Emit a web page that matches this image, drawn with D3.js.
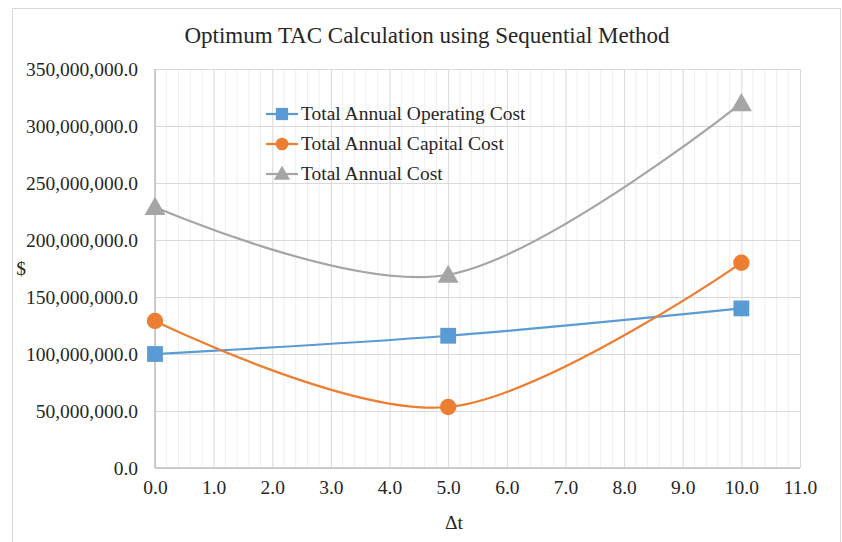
<!DOCTYPE html>
<html>
<head>
<meta charset="utf-8">
<script src="https://cdn.jsdelivr.net/npm/d3@7"></script>
<style>
  body { margin: 0; background: #fff; }
  svg text { font-family: "Liberation Serif", "Times New Roman", "DejaVu Serif", serif !important; fill: #262626; }
</style>
</head>
<body>
<div id="vis"></div>
<script>
// data
const DT = [0, 5, 10];
const OPERATING = [100000000, 116000000, 140000000];
const CAPITAL = [129000000, 53500000, 180000000];
const TOTAL = [229000000, 169500000, 320000000];
const SERIES_NAMES = ["Total Annual Operating Cost", "Total Annual Capital Cost", "Total Annual Cost"];
const X_TICKS = d3.range(0, 12, 1);
const Y_TICKS = d3.range(0, 350000001, 50000000);

const FRAME_WIDTH = 842;
const FRAME_HEIGHT = 542;
const MARGINS = {left: 155, right: 42, top: 69, bottom: 74};
const VIS_WIDTH = FRAME_WIDTH - MARGINS.left - MARGINS.right;
const VIS_HEIGHT = FRAME_HEIGHT - MARGINS.top - MARGINS.bottom;

const COLORS = ["#5B9BD5", "#ED7D31", "#A5A5A5"];
const SHAPES = [d3.symbolSquare, d3.symbolCircle, d3.symbolTriangle];
const SIZES = [250, 210, 190];

const FRAME = d3.select("#vis")
    .append("svg")
    .attr("width", FRAME_WIDTH)
    .attr("height", FRAME_HEIGHT);

// chart border
FRAME.append("rect")
    .attr("x", 12.5).attr("y", 8.5)
    .attr("width", 828).attr("height", 560)
    .attr("fill", "none")
    .attr("stroke", "#d9d9d9");

const X_SCALE = d3.scaleLinear().domain([0, 11]).range([0, VIS_WIDTH]);
const Y_SCALE = d3.scaleLinear().domain([0, 350000000]).range([VIS_HEIGHT, 0]);

const G = FRAME.append("g")
    .attr("transform", "translate(" + MARGINS.left + "," + MARGINS.top + ")");

// minor vertical gridlines
G.append("g")
    .selectAll("line")
    .data(d3.range(0, 11.01, 0.2).filter((d) => Math.abs(d - Math.round(d)) > 0.01))
    .enter()
    .append("line")
    .attr("x1", (d) => X_SCALE(d)).attr("x2", (d) => X_SCALE(d))
    .attr("y1", 0).attr("y2", VIS_HEIGHT)
    .attr("stroke", "#efefef");

// major gridlines
G.append("g")
    .call(d3.axisBottom(X_SCALE).tickValues(X_TICKS).tickSize(-VIS_HEIGHT).tickFormat(""))
    .attr("transform", "translate(0," + VIS_HEIGHT + ")")
    .call((g) => g.select(".domain").remove())
    .selectAll("line").attr("stroke", "#d9d9d9");
G.append("g")
    .call(d3.axisLeft(Y_SCALE).tickValues(Y_TICKS).tickSize(-VIS_WIDTH).tickFormat(""))
    .call((g) => g.select(".domain").remove())
    .selectAll("line").attr("stroke", "#d9d9d9");

// axis lines
G.append("line")
    .attr("x1", 0).attr("x2", VIS_WIDTH)
    .attr("y1", VIS_HEIGHT).attr("y2", VIS_HEIGHT)
    .attr("stroke", "#bfbfbf").attr("stroke-width", 1.5);
G.append("line")
    .attr("x1", 0).attr("x2", 0)
    .attr("y1", 0).attr("y2", VIS_HEIGHT)
    .attr("stroke", "#bfbfbf").attr("stroke-width", 1.5);

// tick labels
const fmtY = d3.format(",.1f");
const XAXIS = G.append("g")
    .attr("transform", "translate(0," + VIS_HEIGHT + ")")
    .call(d3.axisBottom(X_SCALE).tickValues(X_TICKS).tickFormat(d3.format(".1f")).tickSize(0).tickPadding(12));
XAXIS.select(".domain").remove();
XAXIS.selectAll("text").attr("font-size", "19.5px").attr("fill", "#262626");

const YAXIS = G.append("g")
    .call(d3.axisLeft(Y_SCALE).tickValues(Y_TICKS).tickFormat(fmtY).tickSize(0).tickPadding(17));
YAXIS.select(".domain").remove();
YAXIS.selectAll("text").attr("font-size", "19.5px").attr("fill", "#262626");

// series
const ALL = [OPERATING, CAPITAL, TOTAL];
const line = d3.line()
    .x((d, i) => X_SCALE(DT[i]))
    .y((d) => Y_SCALE(d))
    .curve(d3.curveCardinal.tension(0));

ALL.forEach((vals, s) => {
    G.append("path")
        .datum(vals)
        .attr("d", line)
        .attr("fill", "none")
        .attr("stroke", COLORS[s])
        .attr("stroke-width", 2.2);
});
ALL.forEach((vals, s) => {
    G.selectAll(".pt" + s)
        .data(vals)
        .enter()
        .append("path")
        .attr("d", d3.symbol().type(SHAPES[s]).size(SIZES[s]))
        .attr("transform", (d, i) => "translate(" + X_SCALE(DT[i]) + "," + (Y_SCALE(d) + (s === 2 ? 2 : 0)) + ")")
        .attr("fill", COLORS[s]);
});

// legend
const LEGEND = FRAME.append("g").attr("transform", "translate(266,114)");
SERIES_NAMES.forEach((name, s) => {
    const row = LEGEND.append("g").attr("transform", "translate(0," + (s * 30) + ")");
    row.append("line")
        .attr("x1", 0).attr("x2", 32)
        .attr("stroke", COLORS[s]).attr("stroke-width", 2.2);
    row.append("path")
        .attr("d", d3.symbol().type(SHAPES[s]).size(SIZES[s] * 0.6))
        .attr("transform", "translate(16," + (s === 2 ? 1 : 0) + ")")
        .attr("fill", COLORS[s]);
    row.append("text")
        .attr("x", 35).attr("y", 6)
        .attr("font-size", "19.5px")
        .text(name);
});

// titles
FRAME.append("text")
    .attr("x", 427).attr("y", 43)
    .attr("text-anchor", "middle")
    .attr("font-size", "23px")
    .text("Optimum TAC Calculation  using Sequential Method");
FRAME.append("text")
    .attr("x", 21).attr("y", 275)
    .attr("text-anchor", "middle")
    .attr("font-size", "19.5px")
    .text("$");
FRAME.append("text")
    .attr("x", 454).attr("y", 529)
    .attr("text-anchor", "middle")
    .attr("font-size", "19.5px")
    .text("Δt");
</script>
</body>
</html>
